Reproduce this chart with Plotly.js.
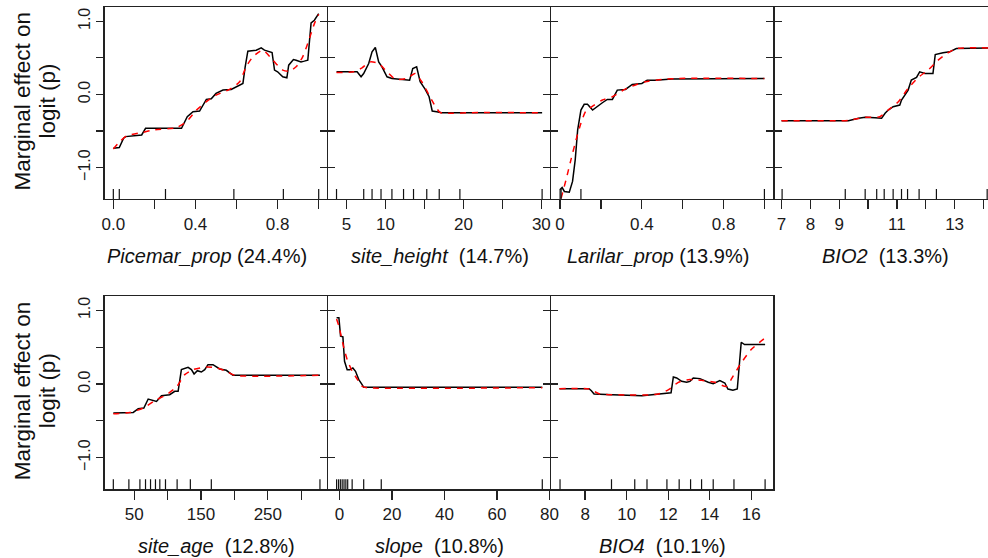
<!DOCTYPE html>
<html><head><meta charset="utf-8">
<script src="https://cdn.plot.ly/plotly-3.0.1.min.js"></script>
<style>html,body{margin:0;padding:0;overflow:hidden;background:#fff}#chart{width:1000px;height:558px}</style>
</head><body><div id="chart"></div>
<script>
// ---------- Panel 1: Picemar_prop ----------
const picemarX   = [0, 0.029, 0.05, 0.06, 0.138, 0.157, 0.332, 0.35, 0.36, 0.388, 0.42, 0.453, 0.477, 0.50, 0.534, 0.574, 0.60, 0.612, 0.631, 0.642, 0.655, 0.696, 0.72, 0.736, 0.773, 0.785, 0.80, 0.825, 0.845, 0.854, 0.877, 0.89, 0.906, 0.914, 0.93, 0.947, 0.963, 0.979, 1.0];
const picemarFit = [-0.736, -0.727, -0.60, -0.577, -0.555, -0.464, -0.464, -0.35, -0.305, -0.236, -0.227, -0.068, -0.059, 0.014, 0.059, 0.068, 0.105, 0.127, 0.15, 0.377, 0.591, 0.605, 0.636, 0.605, 0.573, 0.332, 0.309, 0.241, 0.227, 0.4, 0.477, 0.468, 0.455, 0.445, 0.455, 0.468, 0.977, 1.014, 1.105];
const picemarSmX = [0, 0.032, 0.065, 0.146, 0.194, 0.307, 0.356, 0.405, 0.453, 0.5, 0.566, 0.615, 0.647, 0.68, 0.728, 0.777, 0.825, 0.858, 0.89, 0.922, 0.955, 0.979, 1.0];
const picemarSm  = [-0.745, -0.645, -0.568, -0.518, -0.486, -0.455, -0.373, -0.214, -0.1, -0.009, 0.068, 0.173, 0.377, 0.514, 0.605, 0.468, 0.332, 0.318, 0.377, 0.514, 0.764, 0.968, 1.095];
const picemarRug = [0, 0.029, 0.254, 0.587, 0.828, 1.0];
const picemarTicks = [0, 0.2, 0.4, 0.6, 0.8, 1.0];
const picemarTickText = ["0.0", "", "0.4", "", "0.8", ""];

// ---------- Panel 2: site_height ----------
const heightX   = [3.72, 6.36, 6.87, 7.2, 7.85, 8.28, 8.7, 9.13, 9.55, 10.2, 10.83, 12.1, 13.1, 13.5, 14.0, 14.45, 15.1, 15.6, 16.0, 16.57, 17.2, 30.1];
const heightFit = [0.309, 0.309, 0.241, 0.286, 0.423, 0.582, 0.641, 0.445, 0.377, 0.241, 0.218, 0.209, 0.195, 0.355, 0.377, 0.173, 0.068, -0.032, -0.227, -0.236, -0.25, -0.25];
const heightSmX = [3.72, 5.94, 7.0, 8.06, 9.13, 10.2, 11.26, 12.74, 13.8, 14.66, 15.94, 17.0, 18.7, 20.8, 30.1];
const heightSm  = [0.3, 0.309, 0.364, 0.445, 0.423, 0.309, 0.209, 0.218, 0.286, 0.173, -0.077, -0.245, -0.259, -0.25, -0.25];
const heightRug = [3.72, 7.21, 8.28, 9.43, 10.83, 12.32, 13.6, 15.3, 16.9, 19.55, 30.1];
const heightTicks = [5, 10, 15, 20, 25, 30];
const heightTickText = ["5", "10", "", "20", "", "30"];

// ---------- Panel 3: Larilar_prop ----------
const larilarX   = [0, 0.01, 0.021, 0.045, 0.061, 0.074, 0.086, 0.102, 0.118, 0.134, 0.159, 0.183, 0.207, 0.231, 0.256, 0.28, 0.32, 0.353, 0.4, 0.426, 0.466, 0.547, 1.0];
const larilarFit = [-1.30, -1.273, -1.327, -1.336, -1.19, -0.895, -0.486, -0.214, -0.136, -0.136, -0.214, -0.159, -0.114, -0.068, -0.068, 0.059, 0.068, 0.136, 0.15, 0.195, 0.195, 0.209, 0.218];
const larilarSmX = [0.005, 0.029, 0.053, 0.078, 0.102, 0.126, 0.167, 0.207, 0.256, 0.304, 0.353, 0.417, 0.498, 0.58, 1.0];
const larilarSm  = [-1.42, -1.168, -0.895, -0.623, -0.395, -0.227, -0.145, -0.077, -0.032, 0.05, 0.114, 0.173, 0.205, 0.218, 0.218];
const larilarRug = [0, 0.005, 0.102, 1.0];
const larilarTicks = [0, 0.2, 0.4, 0.6, 0.8, 1.0];
const larilarTickText = ["0", "", "0.4", "", "0.8", ""];

// ---------- Panel 4: BIO2 ----------
const bio2X   = [7.0, 9.32, 9.67, 9.9, 10.24, 10.47, 10.59, 10.7, 10.87, 11.1, 11.16, 11.28, 11.39, 11.5, 11.68, 11.79, 11.97, 12.25, 12.33, 12.6, 12.83, 13.06, 14.17];
const bio2Fit = [-0.359, -0.359, -0.327, -0.314, -0.318, -0.327, -0.259, -0.214, -0.168, -0.145, -0.077, -0.009, 0.059, 0.195, 0.232, 0.309, 0.286, 0.286, 0.545, 0.568, 0.582, 0.627, 0.636];
const bio2SmX = [7.0, 9.32, 9.9, 10.41, 10.7, 11.05, 11.39, 11.74, 12.08, 12.43, 12.77, 13.06, 14.17];
const bio2Sm  = [-0.359, -0.355, -0.314, -0.305, -0.214, -0.1, 0.082, 0.232, 0.332, 0.468, 0.568, 0.627, 0.636];
const bio2Rug = [7.02, 9.21, 9.9, 10.3, 10.56, 10.87, 11.16, 11.37, 11.77, 12.37, 14.13];
const bio2Ticks = [7, 8, 9, 10, 11, 12, 13, 14];
const bio2TickText = ["7", "8", "9", "", "11", "", "13", ""];

// ---------- Panel 5: site_age ----------
const ageX   = [18.7, 48.5, 56, 64.4, 70.9, 78.4, 83.3, 90.8, 98.3, 103, 110.7, 115.7, 120.6, 124, 130.6, 135.6, 139.6, 144.5, 150.5, 155.5, 160.4, 167.9, 177.9, 187.8, 197.8, 328];
const ageFit = [-0.395, -0.386, -0.336, -0.327, -0.204, -0.227, -0.236, -0.159, -0.145, -0.145, -0.1, -0.1, 0.195, 0.209, 0.227, 0.195, 0.136, 0.181, 0.163, 0.195, 0.263, 0.263, 0.204, 0.186, 0.118, 0.118];
const ageSmX = [18.7, 43.5, 63.4, 83.3, 98.3, 113.2, 125.6, 138.1, 158, 172.9, 187.8, 200.2, 328];
const ageSm  = [-0.404, -0.386, -0.327, -0.213, -0.145, -0.041, 0.127, 0.195, 0.231, 0.218, 0.172, 0.118, 0.118];
const ageRug = [18.7, 42, 58.5, 66.9, 74.4, 81.8, 88.3, 96.8, 114.2, 134, 165.4, 328];
const ageTicks = [50, 100, 150, 200, 250, 300];
const ageTickText = ["50", "", "150", "", "250", ""];

// ---------- Panel 6: slope ----------
const slopeX   = [-1.14, -0.25, 0.38, 1.27, 1.9, 2.9, 3.9, 5.06, 6.08, 7.34, 8.6, 9.24, 77.3];
const slopeFit = [0.898, 0.898, 0.649, 0.64, 0.308, 0.195, 0.195, 0.218, 0.172, 0.059, -0.009, -0.045, -0.045];
const slopeSmX = [-1.14, -0.25, 0.63, 1.65, 2.91, 4.81, 6.71, 8.61, 10.51, 77.3];
const slopeSm  = [0.884, 0.785, 0.649, 0.49, 0.331, 0.172, 0.068, -0.032, -0.05, -0.05];
const slopeRug = [-1.14, -0.4, 0.3, 1.0, 1.7, 2.4, 3.1, 4.8, 9.2, 15.9, 77.3];
const slopeTicks = [0, 20, 40, 60, 80];
const slopeTickText = ["0", "20", "40", "60", "80"];

// ---------- Panel 7: BIO4 ----------
const bio4X   = [6.76, 8.19, 8.3, 8.43, 9.31, 10.1, 10.74, 11.22, 11.78, 12.14, 12.25, 12.41, 12.65, 12.89, 13.05, 13.21, 13.53, 13.93, 14.17, 14.49, 14.73, 14.88, 15.12, 15.33, 15.52, 15.68, 16.67];
const bio4Fit = [-0.064, -0.064, -0.091, -0.136, -0.145, -0.15, -0.159, -0.145, -0.127, -0.118, 0.095, 0.082, 0.036, 0.023, 0.036, 0.082, 0.073, 0.023, 0.005, 0.045, 0.014, -0.068, -0.086, -0.068, 0.567, 0.535, 0.535];
const bio4SmX = [6.76, 8.19, 8.67, 10.1, 10.9, 11.54, 12.02, 12.49, 12.97, 13.61, 14.25, 14.8, 15.12, 15.52, 16.0, 16.67];
const bio4Sm  = [-0.064, -0.068, -0.132, -0.15, -0.15, -0.136, -0.077, 0.023, 0.059, 0.05, 0.023, -0.032, 0.104, 0.286, 0.467, 0.626];
const bio4Rug = [6.79, 9.27, 10.39, 10.98, 11.94, 12.53, 13.08, 13.61, 14.17, 15.17, 16.67];
const bio4Ticks = [8, 10, 12, 14, 16];
const bio4TickText = ["8", "10", "12", "14", "16"];

// y axis
const yTicks = [-1, -0.5, 0, 0.5, 1];
const yTickText = ["\u22121.0", "", "0.0", "", "1.0"];
const yTitleLines = ["Marginal effect on", "logit (p)"];

const NB = "\u00A0";
const panels = [
  {x: picemarX, y: picemarFit, sx: picemarSmX, sy: picemarSm, rug: picemarRug, tv: picemarTicks, tt: picemarTickText, range: [-0.043, 1.04], row: 0, col: 0, title: "<i>Picemar_prop</i> (24.4%)", tx: 207},
  {x: heightX, y: heightFit, sx: heightSmX, sy: heightSm, rug: heightRug, tv: heightTicks, tt: heightTickText, range: [2.64, 31.1], row: 0, col: 1, title: "<i>site_height</i>" + NB + NB + "(14.7%)", tx: 440},
  {x: larilarX, y: larilarFit, sx: larilarSmX, sy: larilarSm, rug: larilarRug, tv: larilarTicks, tt: larilarTickText, range: [-0.044, 1.044], row: 0, col: 2, title: "<i>Larilar_prop</i> (13.9%)", tx: 658},
  {x: bio2X, y: bio2Fit, sx: bio2SmX, sy: bio2Sm, rug: bio2Rug, tv: bio2Ticks, tt: bio2TickText, range: [6.76, 14.45], row: 0, col: 3, title: "<i>BIO2</i>" + NB + NB + "(13.3%)", tx: 885},
  {x: ageX, y: ageFit, sx: ageSmX, sy: ageSm, rug: ageRug, tv: ageTicks, tt: ageTickText, range: [5.5, 338.4], row: 1, col: 0, title: "<i>site_age</i>" + NB + NB + "(12.8%)", tx: 216},
  {x: slopeX, y: slopeFit, sx: slopeSmX, sy: slopeSm, rug: slopeRug, tv: slopeTicks, tt: slopeTickText, range: [-4.37, 80.2], row: 1, col: 1, title: "<i>slope</i>" + NB + NB + "(10.8%)", tx: 439},
  {x: bio4X, y: bio4Fit, sx: bio4SmX, sy: bio4Sm, rug: bio4Rug, tv: bio4Ticks, tt: bio4TickText, range: [6.36, 17.07], row: 1, col: 2, title: "<i>BIO4</i>" + NB + NB + "(10.1%)", tx: 662}
];

const W = 1000, H = 558;
const LW = 1.2;
const colPx = [[104.5, 327.5], [327.5, 550.5], [550.5, 774], [774, 997]];
const rowPx = [[7, 199], [296, 489.3]];
const FONT = "Liberation Sans, Arial, sans-serif";
const AX = "#222";

const traces = [];
const layout = {
  width: W, height: H, autosize: false,
  margin: {l: 0, r: 0, t: 0, b: 0, pad: 0},
  paper_bgcolor: "#fff", plot_bgcolor: "#fff",
  showlegend: false, shapes: [], annotations: [],
  font: {family: FONT, color: "#111"}
};

panels.forEach((p, i) => {
  const n = i + 1;
  const xs = n === 1 ? "x" : "x" + n;
  const ys = n === 1 ? "y" : "y" + n;
  const xk = n === 1 ? "xaxis" : "xaxis" + n;
  const yk = n === 1 ? "yaxis" : "yaxis" + n;
  const cp = colPx[p.col], rp = rowPx[p.row];
  const dl = cp[0] + (p.col > 0 ? LW / 2 : 0);
  const dr = cp[1] - LW / 2;
  traces.push({type: "scatter", mode: "lines", x: p.x, y: p.y, xaxis: xs, yaxis: ys,
    line: {color: "#000", width: 1.5}, hoverinfo: "skip"});
  traces.push({type: "scatter", mode: "lines", x: p.sx, y: p.sy, xaxis: xs, yaxis: ys,
    line: {color: "#ff0000", width: 1.5, dash: "6px,6px", shape: "spline", smoothing: 0.6}, hoverinfo: "skip"});
  layout[xk] = {
    domain: [dl / W, dr / W], range: p.range, anchor: ys,
    tickmode: "array", tickvals: p.tv, ticktext: p.tt,
    ticks: "outside", ticklen: 9, tickwidth: 1.3, tickcolor: AX,
    showline: true, linecolor: AX, linewidth: LW, mirror: true,
    showgrid: false, zeroline: false, fixedrange: true,
    tickfont: {family: FONT, size: 17, color: "#1a1a1a"}
  };
  layout[yk] = {
    domain: [1 - rp[1] / H, 1 - rp[0] / H], range: [-1.43, 1.195], anchor: xs,
    tickmode: "array", tickvals: yTicks, ticktext: yTickText,
    showticklabels: p.col === 0, tickangle: -90,
    ticks: "outside", ticklen: 7, tickwidth: 1.3, tickcolor: AX,
    showline: true, linecolor: AX, linewidth: LW, mirror: (i === 6 ? true : "ticks"),
    showgrid: false, zeroline: false, fixedrange: true,
    tickfont: {family: FONT, size: 16, color: "#1a1a1a"}
  };
  const rugH = 10 / (rp[1] - rp[0]);
  p.rug.forEach(v => {
    layout.shapes.push({type: "line", xref: xs, yref: ys + " domain", x0: v, x1: v, y0: 0, y1: rugH,
      line: {color: "#111", width: 1.2}, layer: "above"});
  });
  layout.annotations.push({xref: "paper", yref: "paper", x: p.tx / W, y: 1 - (rp[1] + 57) / H,
    xanchor: "center", yanchor: "middle", showarrow: false, text: p.title,
    font: {family: FONT, size: 20, color: "#111"}});
});

rowPx.forEach(rp => {
  const cy = (rp[0] + rp[1]) / 2 - 1.5;
  [[22, yTitleLines[0]], [47, yTitleLines[1]]].forEach(([px, txt]) => {
    layout.annotations.push({xref: "paper", yref: "paper", x: px / W, y: 1 - cy / H,
      xanchor: "center", yanchor: "middle", showarrow: false, textangle: -90, text: txt,
      font: {family: FONT, size: 22.5, color: "#111"}});
  });
});

Plotly.newPlot("chart", traces, layout, {displayModeBar: false, staticPlot: true});
</script></body></html>
